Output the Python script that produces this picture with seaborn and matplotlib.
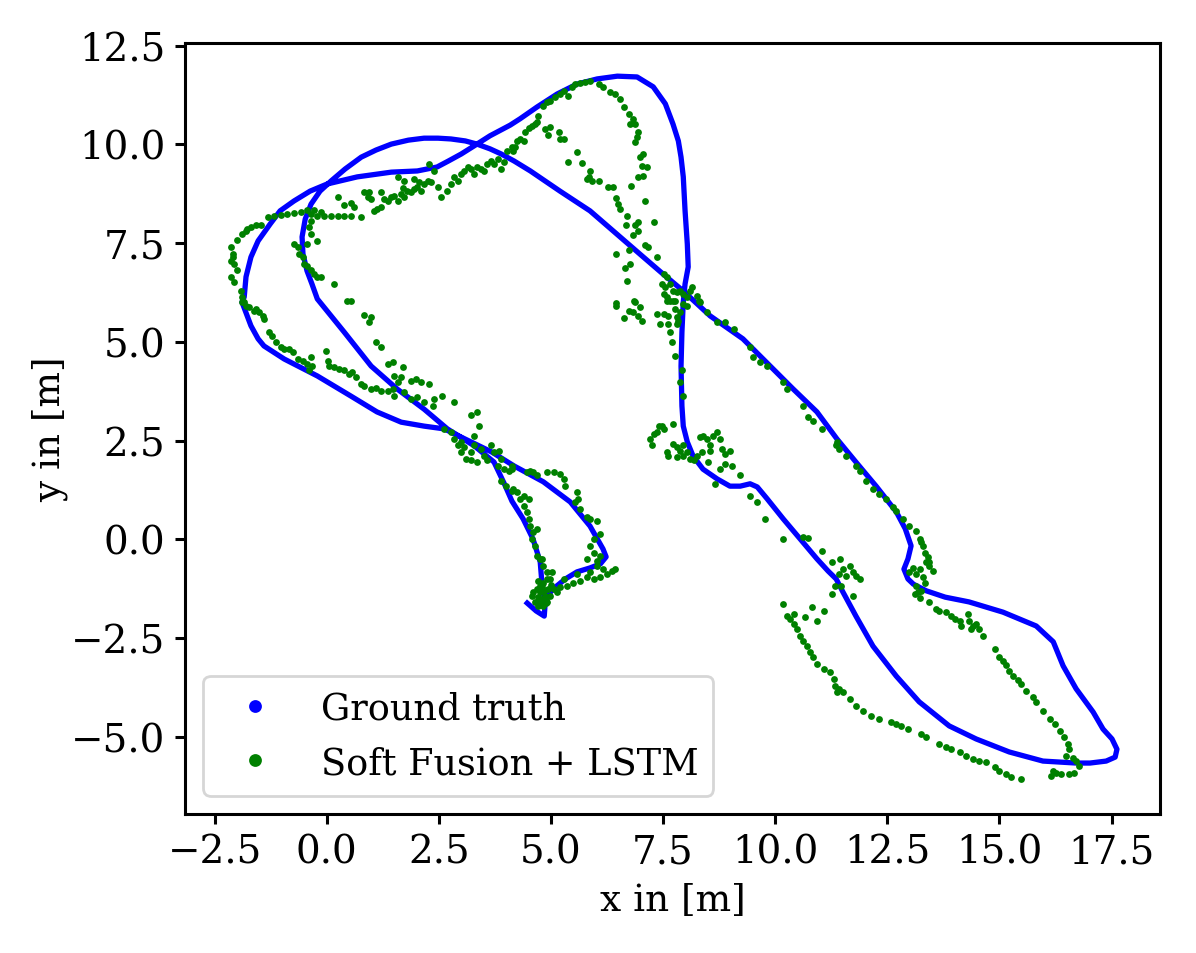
import matplotlib

matplotlib.use("Agg")

import matplotlib.pyplot as plt
import pandas as pd
import seaborn as sns
from matplotlib.lines import Line2D
from matplotlib.ticker import MultipleLocator


# ground truth path in drawing order
GROUND_TRUTH = [
    (4.47, -1.61), (4.67, -1.81), (4.85, -1.94), (4.87, -1.63), (4.80, -1.13),
    (4.76, -0.57), (4.60, 0.01), (4.38, 0.52), (4.13, 0.97), (3.96, 1.41),
    (3.73, 1.96), (3.29, 2.37), (2.69, 2.80), (2.17, 3.30), (1.57, 3.81),
    (0.99, 4.39), (0.39, 5.25), (-0.21, 6.09),
    (-0.33, 6.47), (-0.44, 6.80), (-0.53, 7.23), (-0.55, 7.66), (-0.48, 8.11),
    (-0.35, 8.49), (-0.15, 8.82), (0.10, 9.08), (0.41, 9.38), (0.77, 9.68),
    (1.10, 9.86), (1.44, 10.01), (1.82, 10.11), (2.17, 10.16), (2.48, 10.16),
    (2.77, 10.14), (3.09, 10.09), (3.35, 10.01), (3.64, 9.89), (3.89, 9.76),
    (4.18, 9.58),
    (4.54, 9.33), (5.20, 8.82), (5.87, 8.32), (6.54, 7.66), (7.06, 7.15),
    (7.50, 6.72), (7.95, 6.29), (8.55, 5.66), (9.28, 5.08), (9.73, 4.57),
    (10.40, 3.81), (10.93, 3.23), (11.38, 2.54), (11.80, 1.96), (12.25, 1.35),
    (12.70, 0.70), (12.90, 0.27), (13.03, -0.16), (12.96, -0.49), (12.87, -0.75),
    (12.96, -1.00), (13.08, -1.13), (13.37, -1.30), (13.79, -1.46), (14.32, -1.58),
    (15.08, -1.84), (15.82, -2.19), (16.20, -2.59), (16.42, -3.20), (16.71, -3.78),
    (17.09, -4.37), (17.31, -4.80), (17.51, -5.05), (17.62, -5.31), (17.58, -5.51),
    (17.38, -5.61), (17.02, -5.66), (16.71, -5.66), (15.97, -5.61), (15.22, -5.38),
    (14.48, -5.05), (13.88, -4.72), (13.21, -4.11), (12.70, -3.46), (12.18, -2.70),
    (11.80, -1.94), (11.51, -1.33), (11.36, -1.00), (11.18, -0.80), (10.93, -0.49),
    (10.56, 0.01), (10.18, 0.52), (9.82, 1.03), (9.60, 1.33), (9.44, 1.41),
    (9.22, 1.35), (8.99, 1.35), (8.71, 1.53), (8.39, 1.78), (8.17, 2.11),
    (8.04, 2.47), (7.95, 2.87), (7.92, 3.38), (7.90, 4.39), (7.92, 5.25),
    (7.95, 6.01),
    (7.99, 6.47), (8.06, 6.90), (8.04, 7.48), (7.99, 8.32), (7.95, 9.18),
    (7.90, 9.68), (7.84, 10.09), (7.72, 10.52), (7.55, 11.03), (7.28, 11.46),
    (6.92, 11.71), (6.48, 11.73), (6.03, 11.66), (5.58, 11.53), (5.14, 11.28),
    (4.69, 10.95), (4.31, 10.65), (4.09, 10.49),
    (3.64, 10.22), (3.35, 10.01), (3.00, 9.76), (2.71, 9.58), (2.46, 9.43),
    (2.02, 9.33), (1.44, 9.30), (0.68, 9.18), (0.01, 9.00), (-0.37, 8.82),
    (-0.73, 8.57), (-1.04, 8.32), (-1.26, 7.99), (-1.53, 7.56), (-1.69, 7.15),
    (-1.80, 6.65), (-1.84, 6.14),
    (-1.89, 6.01), (-1.69, 5.41), (-1.53, 5.08), (-1.40, 4.90), (-0.95, 4.57),
    (-0.21, 4.14), (0.54, 3.63), (1.12, 3.23), (1.66, 2.97), (2.17, 2.87),
    (2.62, 2.80), (3.22, 2.47), (3.67, 2.22), (4.18, 1.86), (4.83, 1.46),
    (5.43, 0.95), (5.87, 0.34), (6.16, -0.24), (6.23, -0.44), (6.10, -0.62),
    (5.87, -0.72), (5.58, -0.82), (5.32, -1.00), (5.05, -1.25), (4.87, -1.51),
]

# Soft Fusion + LSTM estimates, grouped by region of the plot
EST_UPPER_LEFT = [
    (-2.14, 7.40), (-2.10, 7.23), (-2.14, 7.06), (-2.06, 6.97), (-2.10, 7.14),
    (-1.99, 7.57), (-1.88, 7.73), (-1.80, 7.82), (-1.77, 7.86), (-1.69, 7.90),
    (-1.58, 7.95), (-1.47, 7.95), (-1.32, 8.16), (-1.17, 8.20), (-1.02, 8.22),
    (-0.88, 8.24), (-0.73, 8.26), (-0.58, 8.28), (-0.43, 8.33), (-0.36, 8.24),
    (-0.28, 8.33), (-0.21, 8.20), (-0.13, 8.28), (-0.06, 8.20), (0.09, 8.20),
    (0.24, 8.20), (0.39, 8.18), (0.54, 8.20), (0.76, 8.17), (0.24, 8.66),
    (0.39, 8.46), (0.54, 8.51), (0.61, 8.43), (0.83, 8.79), (0.91, 8.66),
    (0.98, 8.62), (1.06, 8.32), (1.13, 8.37), (1.21, 8.41), (1.36, 8.58),
    (1.43, 8.66), (1.50, 8.70), (1.58, 8.58), (1.65, 8.75), (1.73, 8.66),
    (1.80, 8.83), (1.88, 8.79), (1.95, 8.87), (2.02, 8.92), (2.10, 8.83),
    (2.17, 9.00), (2.25, 9.08), (2.32, 9.04), (2.28, 9.51), (2.40, 9.34),
    (2.47, 8.92), (2.54, 8.66), (2.69, 8.83), (2.77, 9.00), (2.84, 9.17),
    (2.92, 9.08), (2.99, 9.25), (3.06, 9.34), (3.14, 9.42), (3.21, 9.38),
    (3.29, 9.25), (3.36, 9.42), (3.44, 9.38), (3.51, 9.34), (3.58, 9.51),
    (3.66, 9.59), (3.73, 9.51), (3.81, 9.63), (3.88, 9.38), (3.96, 9.55),
    (4.03, 9.84), (4.14, 9.93), (1.58, 9.17), (1.73, 9.08), (1.95, 9.13),
    (1.21, 8.79), (0.95, 8.79), (1.28, 8.62), (1.70, 8.90), (2.05, 9.05),
    (-0.36, 8.07), (-0.39, 7.90), (-0.36, 7.73), (-0.21, 7.56), (-0.43, 7.48),
    (-0.73, 7.48), (-0.65, 7.40), (-0.62, 7.23), (-0.54, 7.14), (-0.50, 6.97),
    (-0.43, 6.93), (-0.36, 6.81), (-0.28, 6.72), (-0.21, 6.64), (-0.13, 6.64),
    (0.17, 6.47), (-2.14, 6.64), (-2.06, 6.51), (-1.99, 6.81), (-1.92, 6.30),
    (-1.88, 6.13), (-1.84, 6.00),
]

EST_TOP_LOOP = [
    (4.16, 9.84), (4.20, 9.93), (4.24, 10.10), (4.31, 10.14), (4.39, 10.10),
    (4.42, 10.31), (4.50, 10.43), (4.57, 10.48), (4.65, 10.52), (4.68, 10.56),
    (4.72, 10.73), (4.83, 10.98), (4.91, 11.07), (4.98, 11.11), (5.09, 11.19),
    (5.20, 11.28), (5.28, 11.36), (5.39, 11.24), (5.46, 11.45), (5.54, 11.53),
    (5.65, 11.55), (5.76, 11.57), (5.87, 11.60), (6.06, 11.53), (6.17, 11.45),
    (6.32, 11.32), (6.43, 11.28), (6.54, 11.15), (6.62, 10.94), (6.73, 10.77),
    (6.77, 10.52), (6.84, 10.65), (6.88, 10.52), (6.91, 10.18), (6.88, 10.06),
    (6.95, 10.31), (6.99, 9.68), (7.06, 9.76), (7.03, 9.46), (7.14, 9.42),
    (6.95, 9.17), (7.06, 9.21), (6.79, 8.96), (7.10, 8.58), (7.29, 8.03),
    (4.87, 10.39), (4.98, 10.45), (4.94, 10.25), (5.17, 10.31), (5.20, 10.14),
    (5.28, 10.14), (5.58, 9.80), (5.39, 9.55), (5.69, 9.52), (5.87, 9.34),
    (5.84, 9.17), (5.91, 9.08), (5.80, 9.13), (6.06, 9.08), (6.28, 8.93),
    (6.39, 8.93), (6.45, 8.65), (6.50, 8.49), (6.54, 8.37), (6.69, 8.20),
    (6.68, 7.95), (6.88, 7.95), (6.94, 8.03), (6.82, 7.72), (6.94, 7.80),
    (7.10, 7.46), (7.17, 7.40), (7.36, 7.16), (6.45, 7.24), (6.75, 7.33),
    (6.77, 6.97), (6.65, 6.87), (6.69, 6.55), (6.85, 6.03), (6.45, 5.98),
    (7.51, 6.72), (7.58, 6.64), (7.47, 6.47), (7.55, 6.38), (7.66, 6.47),
    (7.73, 6.30), (7.51, 6.22), (7.58, 6.13), (7.81, 6.26), (7.88, 6.30),
    (7.95, 6.22), (8.10, 6.30), (8.14, 6.38), (8.25, 6.17), (8.29, 6.05),
    (8.03, 6.13), (7.66, 6.05), (7.77, 6.05),
]

EST_MIDDLE_LEFT = [
    (-1.88, 6.01), (-1.80, 5.92), (-1.73, 5.88), (-1.62, 5.79), (-1.51, 5.75),
    (-1.43, 5.67), (-1.58, 5.84), (-1.40, 5.58), (-1.28, 5.25), (-1.21, 5.16),
    (-1.14, 4.99), (-1.02, 4.87), (-0.95, 4.82), (-0.84, 4.82), (-0.76, 4.74),
    (-0.65, 4.57), (-0.54, 4.53), (-0.43, 4.44), (-0.36, 4.61), (-0.39, 4.28),
    (-0.32, 4.40), (-0.02, 4.76), (0.02, 4.53), (0.05, 4.40), (0.17, 4.36),
    (0.28, 4.32), (0.39, 4.28), (0.50, 4.19), (0.57, 4.23), (0.65, 4.11),
    (0.76, 3.94), (0.83, 3.88), (0.98, 3.81), (1.09, 3.83), (1.21, 3.77),
    (1.36, 3.77), (1.47, 3.81), (0.46, 6.05), (0.54, 6.05), (0.83, 5.68),
    (0.98, 5.63), (0.95, 5.50), (1.09, 4.99), (1.21, 4.87), (1.36, 4.44),
    (1.47, 4.49), (1.69, 4.36), (1.50, 4.15), (1.65, 4.11), (1.58, 3.98),
    (1.88, 4.02), (1.99, 4.06), (2.10, 3.98), (2.28, 3.94), (1.50, 3.64),
    (1.73, 3.73), (1.88, 3.56), (2.02, 3.60), (2.17, 3.47), (2.36, 3.39),
    (2.58, 3.64), (2.40, 3.56), (2.84, 3.47), (3.21, 3.14), (3.36, 3.22),
    (3.40, 2.88), (3.29, 2.63), (2.62, 2.80), (2.77, 2.71), (2.84, 2.55),
    (2.99, 2.46), (3.06, 2.33), (3.21, 2.21), (3.29, 2.38), (3.44, 2.29),
    (3.51, 2.12), (3.36, 1.95), (3.21, 2.00), (3.66, 2.38), (3.73, 2.21),
    (3.84, 2.25), (3.88, 2.04), (3.81, 1.87), (3.96, 1.79), (4.07, 1.74),
    (4.14, 1.87), (3.88, 1.49), (3.99, 1.36), (4.14, 1.24), (3.58, 2.00),
    (2.99, 2.21), (3.10, 2.04), (2.92, 2.38),
]

EST_MIDDLE = [
    (6.45, 5.92), (6.62, 5.60), (6.75, 5.79), (6.84, 5.75), (6.88, 6.01),
    (6.95, 5.67), (6.99, 5.88), (7.03, 5.54), (7.36, 5.71), (7.51, 5.71),
    (7.58, 6.05), (7.62, 5.67), (7.66, 5.25), (7.73, 6.05), (7.77, 5.84),
    (7.81, 5.63), (7.84, 5.54), (7.88, 5.75), (7.81, 5.46), (7.95, 5.96),
    (8.03, 5.92), (7.69, 4.99), (7.77, 4.65), (7.92, 4.28), (7.88, 3.98),
    (7.95, 3.64), (7.43, 5.46), (7.62, 5.46),
    (8.33, 6.01), (8.47, 5.75), (8.70, 5.50), (8.88, 5.50), (9.07, 5.33),
    (9.44, 4.87), (9.51, 4.61), (9.66, 4.49), (9.81, 4.40), (10.18, 3.98),
    (10.26, 3.81), (10.63, 3.39), (10.74, 3.09), (10.85, 3.01), (11.04, 2.80),
    (11.37, 2.46),
    (7.21, 2.55), (7.25, 2.38), (7.29, 2.67), (7.36, 2.71), (7.40, 2.88),
    (7.47, 2.88), (7.51, 2.80), (7.73, 2.92), (7.58, 2.21), (7.62, 2.12),
    (7.73, 2.42), (7.81, 2.33), (7.88, 2.25), (7.95, 2.38), (7.81, 2.08),
    (7.95, 2.12), (8.03, 2.21), (8.10, 2.04), (8.18, 2.00), (8.25, 2.12),
    (8.33, 2.59), (8.40, 2.63), (8.47, 2.55), (8.55, 2.38), (8.62, 2.63),
    (8.70, 2.71), (8.77, 2.55), (8.81, 2.29), (8.88, 2.17), (8.99, 2.25),
    (8.55, 2.25), (8.36, 2.21), (8.51, 1.95), (8.77, 1.79), (8.88, 1.91),
    (9.03, 1.87), (8.66, 1.41), (9.22, 1.62), (9.44, 1.11), (9.59, 0.94),
    (9.77, 0.52), (10.18, 0.01), (10.63, 0.06), (10.74, 0.03), (11.04, -0.28),
    (11.26, -0.58), (11.45, -0.49),
]

EST_SMALL_LOOP = [
    (4.13, 1.78), (4.16, 1.28), (4.24, 1.19), (4.31, 1.03), (4.39, 1.11),
    (4.46, 1.70), (4.54, 1.74), (4.61, 1.70), (4.68, 1.62), (4.91, 1.70),
    (5.06, 1.70), (5.20, 1.66), (5.28, 1.53), (5.32, 1.36), (5.58, 1.19),
    (5.61, 1.03), (5.54, 0.94), (5.65, 0.77), (5.80, 0.56), (5.87, 0.52),
    (6.02, 0.48), (5.95, 0.01), (6.10, 0.14), (5.87, -0.16), (5.95, -0.33),
    (6.10, -0.41), (6.02, -0.54), (5.80, -0.49), (4.39, 0.86), (4.46, 0.69),
    (4.50, 0.52), (4.54, 0.35), (4.61, 0.18), (4.57, 0.01), (4.65, -0.16),
    (4.68, -0.41), (4.50, 1.03), (4.68, 0.27), (4.76, -0.49),
    (4.61, -1.34), (4.68, -1.25), (4.76, -1.17), (4.83, -1.09), (4.91, -1.00),
    (4.80, -1.51), (4.72, -1.68), (4.83, -1.68), (4.91, -1.59), (4.98, -1.42),
    (4.94, -1.25), (4.87, -1.42), (4.76, -1.34), (4.65, -1.59), (4.57, -1.42),
    (4.98, -1.00), (5.02, -0.83), (4.91, -0.83), (4.83, -0.66), (4.80, -0.49),
    (5.06, -1.25), (5.20, -1.21), (5.35, -1.17), (5.50, -1.09), (5.65, -1.04),
    (5.80, -0.96), (5.95, -1.00), (6.10, -0.96), (6.24, -0.87), (6.36, -0.79),
    (6.43, -0.75), (5.58, -0.87), (5.87, -0.83), (6.02, -0.66), (6.17, -0.75),
    (5.28, -1.00), (5.13, -1.34), (4.70, -1.45), (4.85, -1.30), (4.90, -1.50),
    (4.75, -1.55), (4.80, -1.20), (4.70, -1.05), (4.88, -1.62), (5.00, -1.15),
]

EST_RIGHT = [
    (11.36, 2.38), (11.43, 2.29), (11.58, 2.12), (11.80, 1.87), (11.88, 1.74),
    (12.03, 1.49), (12.18, 1.28), (12.32, 1.15), (12.47, 1.03), (12.62, 0.82),
    (12.70, 0.73), (12.84, 0.52), (12.99, 0.35), (13.14, 0.22), (13.22, 0.01),
    (13.29, -0.16), (13.33, -0.33), (13.40, -0.45), (13.44, -0.58), (13.25, -0.07),
    (11.43, -0.87), (11.51, -0.75), (11.58, -0.92), (11.66, -0.66), (11.73, -0.83),
    (11.80, -0.92), (11.88, -1.00), (11.73, -1.42), (11.47, -1.17),
    (12.99, -0.83), (13.07, -0.71), (13.14, -0.87), (13.22, -0.75), (13.29, -0.96),
    (13.37, -0.58), (13.44, -0.66), (13.51, -0.79), (13.14, -1.17), (13.18, -1.34),
    (13.25, -1.30), (13.11, -1.38), (13.22, -1.47), (13.33, -1.09),
    (13.44, -1.59), (13.59, -1.76), (13.66, -1.80), (13.81, -1.84), (13.92, -1.93),
    (14.00, -2.01), (14.11, -2.06), (14.15, -2.18), (14.29, -1.89), (14.33, -2.06),
    (14.41, -2.18), (14.48, -2.14), (14.55, -2.27), (14.63, -2.44), (14.37, -2.27),
    (14.89, -2.77), (15.00, -2.98), (15.07, -3.07), (15.15, -3.19), (15.22, -3.32),
    (15.30, -3.45), (15.41, -3.57), (15.48, -3.66), (15.59, -3.83), (15.74, -4.00),
    (15.82, -4.12), (15.97, -4.33), (16.12, -4.55), (16.23, -4.67), (16.34, -4.84),
    (16.45, -5.01), (16.52, -5.18), (16.56, -5.30), (16.49, -5.47), (16.64, -5.52),
    (16.71, -5.60), (16.78, -5.73), (16.67, -5.90), (16.56, -5.94), (16.26, -5.90),
    (16.15, -5.98), (16.19, -5.85), (16.38, -5.94),
]

EST_LOWER_RIGHT = [
    (10.18, -1.63), (10.26, -1.93), (10.33, -2.01), (10.41, -2.14), (10.48, -2.27),
    (10.56, -2.44), (10.63, -2.56), (10.70, -2.69), (10.78, -2.86), (10.85, -2.98),
    (10.93, -3.15), (11.08, -3.28), (11.22, -3.36), (11.30, -3.53), (11.34, -3.70),
    (11.37, -3.87), (10.67, -1.97), (10.82, -1.72), (10.93, -2.06), (11.08, -1.80),
    (10.41, -1.89), (11.34, -1.17), (11.26, -1.38),
    (11.43, -3.79), (11.51, -3.87), (11.66, -4.04), (11.80, -4.21), (11.95, -4.33),
    (12.14, -4.46), (12.32, -4.55), (12.58, -4.63), (12.70, -4.67), (12.81, -4.71),
    (12.96, -4.80), (13.25, -4.93), (13.37, -5.01), (13.66, -5.18), (13.81, -5.26),
    (13.92, -5.30), (14.11, -5.39), (14.26, -5.47), (14.41, -5.56), (14.55, -5.60),
    (14.70, -5.64), (14.89, -5.77), (15.00, -5.85), (15.15, -5.94), (15.26, -6.02),
    (15.48, -6.06),
]

EST_REGIONS = [
    EST_UPPER_LEFT, EST_TOP_LOOP, EST_MIDDLE_LEFT, EST_MIDDLE,
    EST_SMALL_LOOP, EST_RIGHT, EST_LOWER_RIGHT,
]

LABELS = ["Ground truth", "Soft Fusion + LSTM"]


gt = pd.DataFrame(GROUND_TRUTH, columns=["x", "y"])
est = pd.DataFrame([p for region in EST_REGIONS for p in region], columns=["x", "y"])

plt.rcParams["font.family"] = ["DejaVu Serif"]
plt.rcParams["font.size"] = 13.5
plt.rcParams["axes.linewidth"] = 1.1
plt.rcParams["xtick.major.width"] = 1.1
plt.rcParams["ytick.major.width"] = 1.1

fig = plt.figure(figsize=(5.98, 4.77), dpi=200)
ax = fig.add_axes([0.1547, 0.1457, 0.8152, 0.8082])

sns.lineplot(data=gt, x="x", y="y", sort=False, estimator=None, color="blue",
             linewidth=1.9, ax=ax, legend=False)
sns.scatterplot(data=est, x="x", y="y", color="green", s=6, linewidth=0, ax=ax,
                legend=False, zorder=3)

ax.set_xlim(-3.16, 18.58)
ax.set_ylim(-6.95, 12.57)
ax.xaxis.set_major_locator(MultipleLocator(2.5))
ax.yaxis.set_major_locator(MultipleLocator(2.5))
ax.tick_params(labelsize=14)
ax.set_xlabel("x in [m]", fontsize=13.5)
ax.set_ylabel("y in [m]", fontsize=13.5, labelpad=1)

handles = [
    Line2D([], [], linestyle="none", marker="o", markersize=3.6, color="blue"),
    Line2D([], [], linestyle="none", marker="o", markersize=3.6, color="green"),
]
ax.legend(handles, LABELS, loc="lower left", fontsize=13.2)

fig.savefig("out.png", dpi=200)
